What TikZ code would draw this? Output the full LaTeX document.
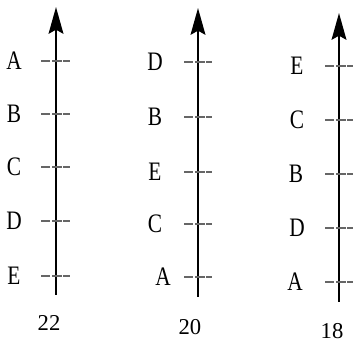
\documentclass[tikz,border=0pt]{standalone}
\usepackage{fontspec}
\setmainfont{Liberation Serif}
\newfontfamily\narrowserif{Liberation Serif}[FakeStretch=0.8]
\usetikzlibrary{arrows.meta}

\begin{document}
\begin{tikzpicture}[
    x=0.75pt, y=-0.75pt,
    axis/.style={-{Stealth[length=20pt, width=11pt, inset=3pt]}, line width=2.1pt},
    tick/.style={draw=black!60, line width=2pt, dash pattern=on 7pt off 1.4pt},
    lab/.style={font=\narrowserif\fontsize{20}{24}\selectfont, inner sep=0pt},
    num/.style={font=\fontsize{17}{20}\selectfont, inner sep=0pt}
]
\useasboundingbox (0,0) rectangle (358,345);

% --- Left: 22 ---
\coordinate (bot22) at (56,295);
\coordinate (top22) at (56,7);
\draw[axis] (bot22) -- (top22);

\draw[tick] (41,61) -- (70,61);
\draw[tick] (41,114) -- (70,114);
\draw[tick] (41,167) -- (70,167);
\draw[tick] (41,221) -- (70,221);
\draw[tick] (41,276) -- (70,276);

\node[lab] (a22) at (14,61) {A};
\node[lab] (b22) at (14,114) {B};
\node[lab] (c22) at (14,167) {C};
\node[lab] (d22) at (14,221) {D};
\node[lab] (e22) at (14,276) {E};

\node[num] (n22) at (49,323) {22};

% --- Middle: 20 ---
\coordinate (bot20) at (198,297);
\coordinate (top20) at (198,8);
\draw[axis] (bot20) -- (top20);

\draw[tick] (184,62) -- (212,62);
\draw[tick] (184,117) -- (212,117);
\draw[tick] (184,172) -- (212,172);
\draw[tick] (184,224) -- (212,224);
\draw[tick] (184,277) -- (212,277);

\node[lab] (d20) at (155,62) {D};
\node[lab] (b20) at (155,117) {B};
\node[lab] (e20) at (155,172) {E};
\node[lab] (c20) at (155,224) {C};
\node[lab] (a20) at (163,277) {A};

\node[num] (n20) at (190,327) {20};

% --- Right: 18 ---
\coordinate (bot18) at (339,302);
\coordinate (top18) at (339,13);
\draw[axis] (bot18) -- (top18);

\draw[tick] (325,66) -- (353,66);
\draw[tick] (325,120) -- (353,120);
\draw[tick] (325,174) -- (353,174);
\draw[tick] (325,228) -- (353,228);
\draw[tick] (325,282) -- (353,282);

\node[lab] (e18) at (297,66) {E};
\node[lab] (c18) at (297,120) {C};
\node[lab] (b18) at (296,174) {B};
\node[lab] (d18) at (297,228) {D};
\node[lab] (a18) at (295,282) {A};

\node[num] (n18) at (332,331) {18};

\end{tikzpicture}
\end{document}
